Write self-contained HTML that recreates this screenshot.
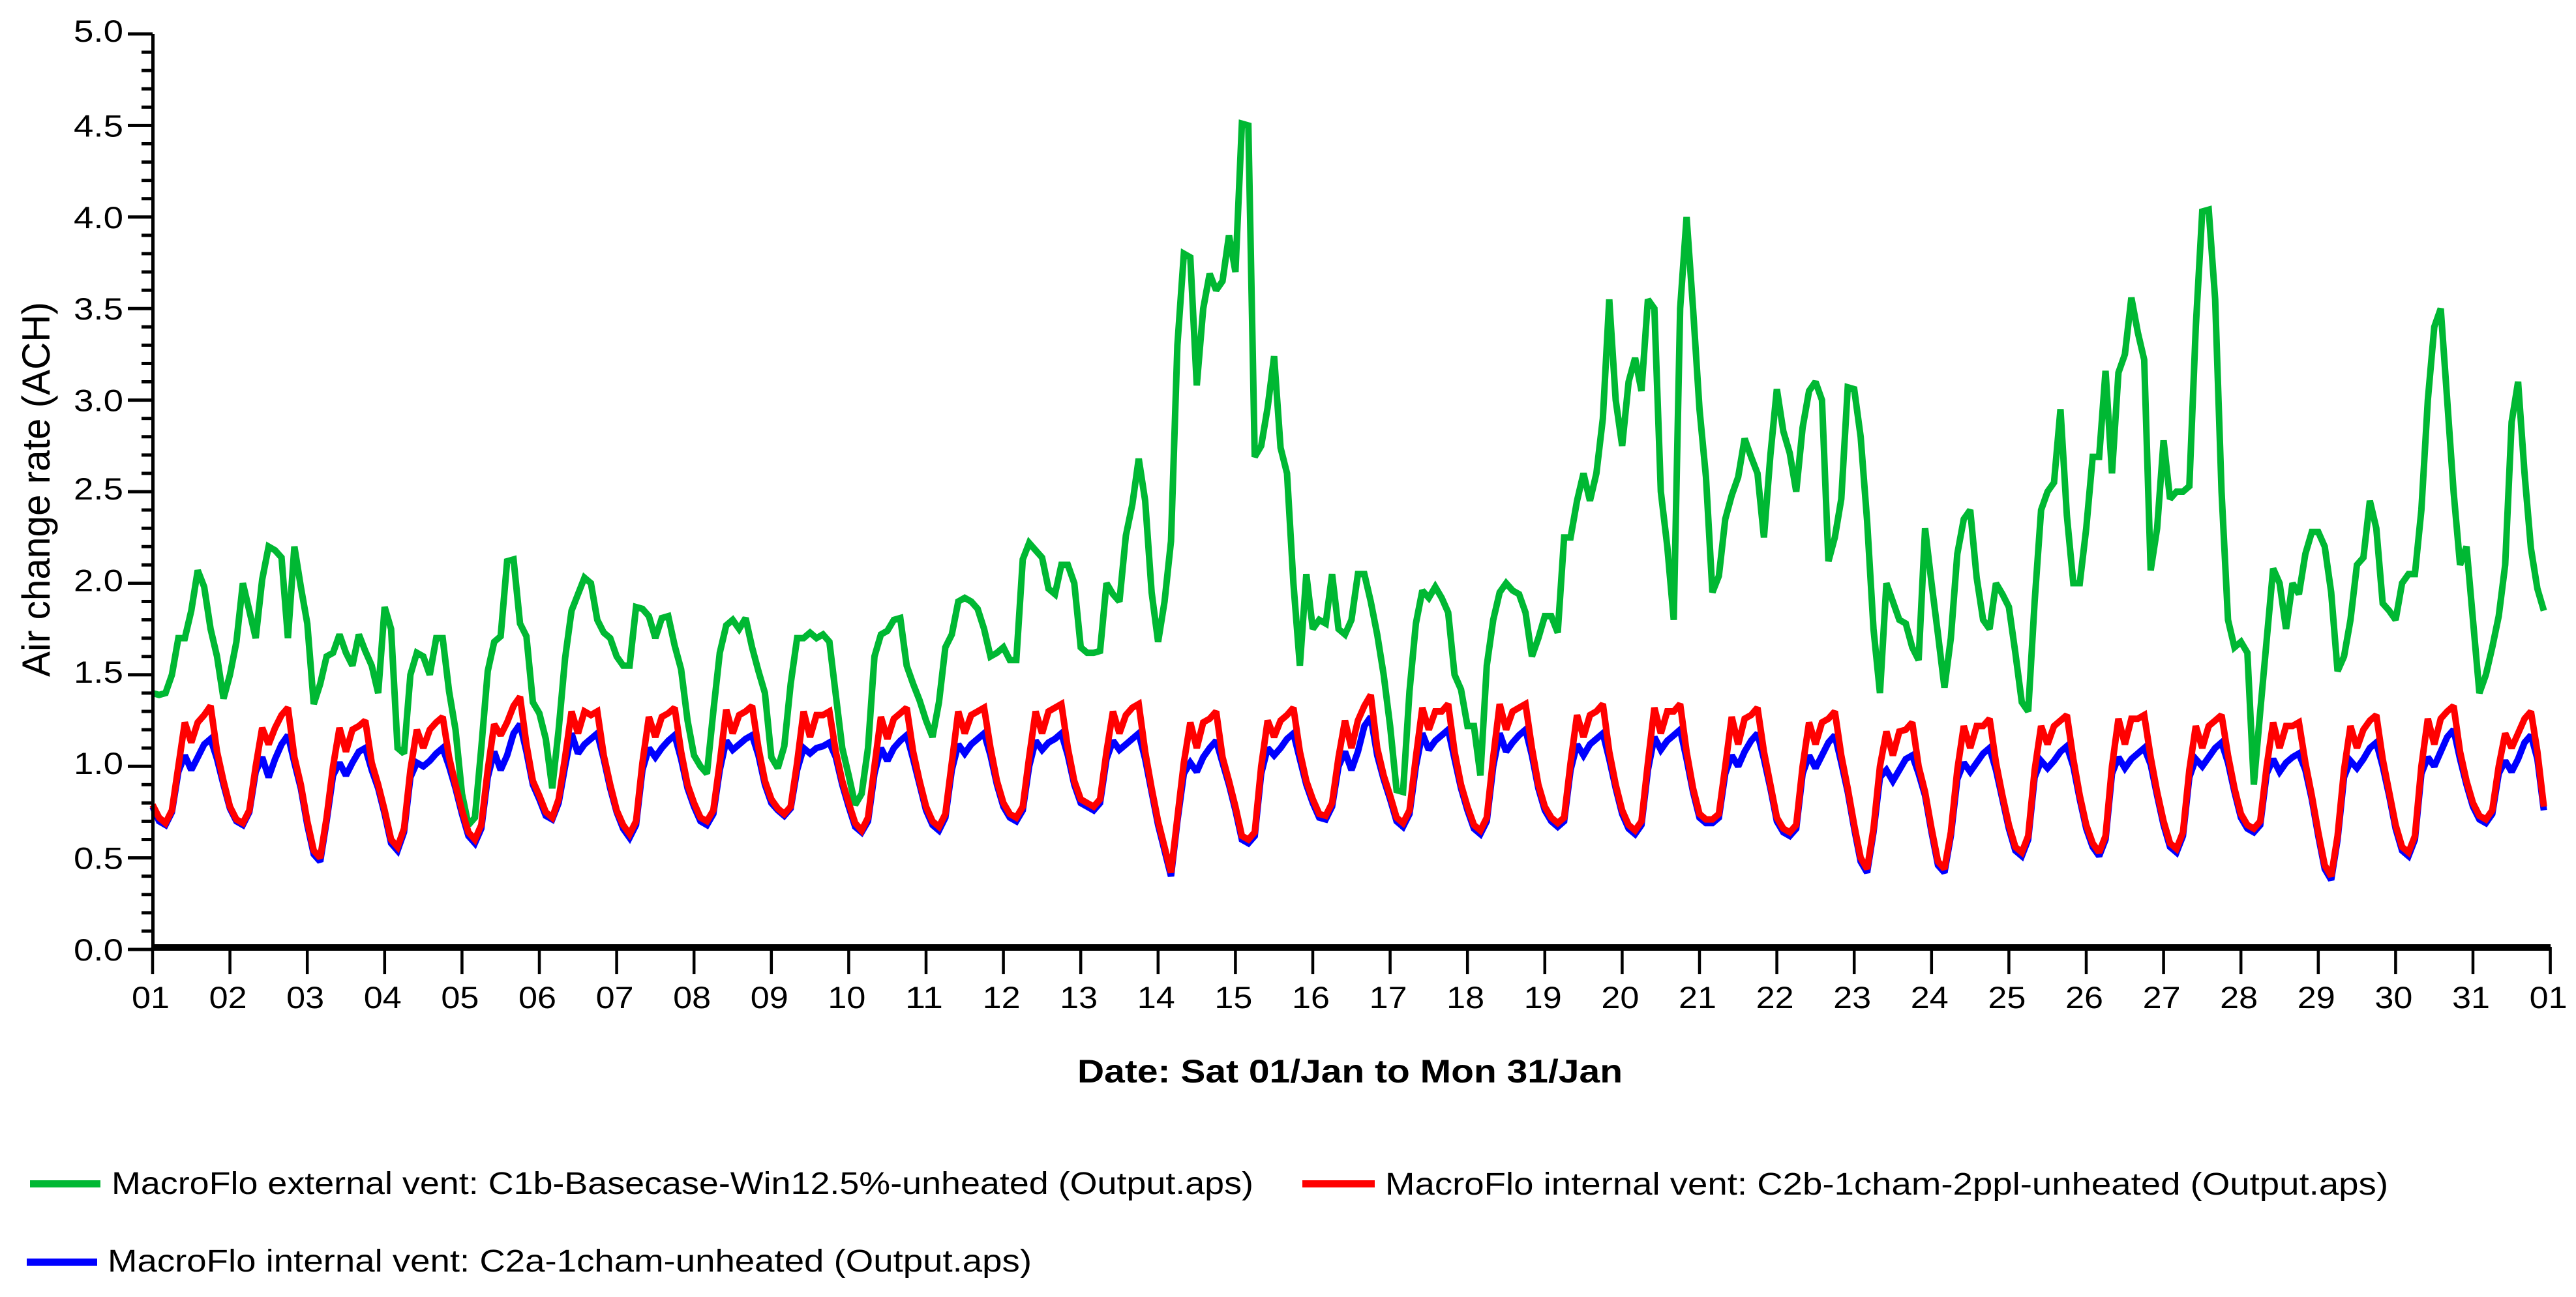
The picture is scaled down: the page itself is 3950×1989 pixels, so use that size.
<!DOCTYPE html>
<html lang="en">
<head>
<meta charset="utf-8">
<title>Air change rate chart</title>
<style>
html,body{margin:0;padding:0;background:#fff;}
svg{display:block;}
text{font-family:"Liberation Sans",Arial,sans-serif;fill:#000;}
</style>
</head>
<body>
<svg id="chart" xmlns="http://www.w3.org/2000/svg" width="3950" height="1989" viewBox="0 0 3950 1989">
<rect width="3950" height="1989" fill="#fff"/>
<g id="series"></g>
<g id="axes"></g>
<text transform="translate(76,1038) rotate(-90)" font-size="60" textLength="575" lengthAdjust="spacingAndGlyphs">Air change rate (ACH)</text>
<text x="1652" y="1660" font-size="50" font-weight="bold" textLength="836" lengthAdjust="spacingAndGlyphs">Date: Sat 01/Jan to Mon 31/Jan</text>
<g>
<rect x="46" y="1810" width="108" height="11" fill="#00b833"/>
<text x="171" y="1831" font-size="48" textLength="1751" lengthAdjust="spacingAndGlyphs">MacroFlo external vent: C1b-Basecase-Win12.5%-unheated (Output.aps)</text>
<rect x="1997" y="1810" width="111" height="11" fill="#ff0000"/>
<text x="2124" y="1832" font-size="48" textLength="1538" lengthAdjust="spacingAndGlyphs">MacroFlo internal vent: C2b-1cham-2ppl-unheated (Output.aps)</text>
<rect x="41" y="1930" width="108" height="11" fill="#0000ff"/>
<text x="165" y="1950" font-size="48" textLength="1417" lengthAdjust="spacingAndGlyphs">MacroFlo internal vent: C2a-1cham-unheated (Output.aps)</text>
</g>
</svg>
<script>
// Two-hourly samples, 12 per day, 1 to 31 January.
const externalC1b = [
1.4,1.39,1.4,1.5,1.7,1.7,1.85,2.07,1.98,1.75,1.6,1.37,
1.5,1.68,2.0,1.85,1.7,2.02,2.2,2.18,2.14,1.7,2.2,1.98,
1.78,1.34,1.45,1.6,1.62,1.72,1.62,1.55,1.72,1.63,1.55,1.4,
1.87,1.75,1.1,1.07,1.5,1.62,1.6,1.5,1.7,1.7,1.41,1.2,
.85,.68,.72,1.1,1.52,1.68,1.71,2.12,2.13,1.78,1.71,1.35,
1.29,1.15,.88,1.2,1.59,1.85,1.94,2.03,2.0,1.8,1.73,1.7,
1.6,1.55,1.55,1.87,1.86,1.82,1.7,1.81,1.82,1.66,1.53,1.25,
1.06,1.0,.96,1.3,1.62,1.77,1.8,1.75,1.81,1.65,1.52,1.4,
1.05,.99,1.11,1.45,1.7,1.7,1.73,1.7,1.72,1.68,1.39,1.1,
.95,.79,.85,1.1,1.6,1.72,1.74,1.8,1.81,1.55,1.45,1.36,
1.25,1.16,1.35,1.65,1.72,1.9,1.92,1.9,1.86,1.75,1.6,1.62,
1.65,1.58,1.58,2.13,2.22,2.18,2.14,1.97,1.94,2.1,2.1,2.0,
1.65,1.62,1.62,1.63,2.0,1.94,1.9,2.26,2.43,2.68,2.45,1.95,
1.68,1.9,2.23,3.3,3.8,3.78,3.08,3.5,3.69,3.6,3.65,3.9,
3.7,4.51,4.5,2.69,2.75,2.96,3.24,2.74,2.6,2.0,1.55,2.05,
1.75,1.8,1.78,2.05,1.75,1.72,1.8,2.05,2.05,1.9,1.72,1.5,
1.22,.87,.86,1.41,1.78,1.96,1.92,1.98,1.92,1.84,1.5,1.42,
1.22,1.22,.95,1.55,1.8,1.95,2.0,1.96,1.94,1.84,1.6,1.7,
1.82,1.82,1.73,2.25,2.25,2.45,2.6,2.45,2.6,2.9,3.55,3.0,
2.75,3.1,3.23,3.05,3.55,3.5,2.5,2.2,1.8,3.5,4.0,3.5,
2.95,2.58,1.95,2.04,2.35,2.48,2.58,2.79,2.69,2.6,2.25,2.7,
3.06,2.83,2.71,2.5,2.85,3.05,3.1,3.0,2.12,2.25,2.46,3.07,
3.06,2.8,2.34,1.75,1.4,2.0,1.9,1.8,1.78,1.65,1.58,2.3,
2.0,1.72,1.43,1.7,2.16,2.35,2.4,2.03,1.8,1.75,2.0,1.94,
1.87,1.62,1.35,1.3,1.9,2.4,2.5,2.55,2.95,2.37,2.0,2.0,
2.3,2.69,2.69,3.16,2.6,3.15,3.25,3.56,3.37,3.22,2.07,2.3,
2.78,2.46,2.5,2.5,2.53,3.4,4.03,4.04,3.55,2.5,1.8,1.65,
1.68,1.62,.9,1.3,1.69,2.08,2.0,1.75,2.0,1.94,2.16,2.28,
2.28,2.2,1.95,1.52,1.6,1.8,2.1,2.14,2.45,2.3,1.89,1.85,
1.8,2.0,2.05,2.05,2.4,3.0,3.4,3.5,3.0,2.5,2.1,2.2,
1.8,1.4,1.5,1.65,1.82,2.1,2.88,3.1,2.6,2.19,1.97,1.85
];
const internalC2b = [
.79,.72,.69,.76,1.00,1.24,1.13,1.24,1.28,1.33,1.08,.92,
.78,.71,.69,.76,1.00,1.21,1.12,1.21,1.28,1.32,1.05,.90,
.70,.54,.50,.72,1.00,1.21,1.08,1.20,1.22,1.25,1.02,.90,
.76,.60,.56,.66,.98,1.20,1.10,1.20,1.24,1.27,1.05,.90,
.76,.64,.60,.68,.98,1.23,1.17,1.24,1.33,1.38,1.12,.92,
.84,.75,.72,.82,1.05,1.30,1.18,1.30,1.28,1.30,1.06,.90,
.76,.68,.63,.70,1.02,1.27,1.16,1.27,1.29,1.32,1.08,.90,
.80,.72,.70,.76,1.02,1.31,1.18,1.28,1.30,1.33,1.10,.92,
.82,.77,.74,.78,1.02,1.30,1.16,1.28,1.28,1.30,1.08,.92,
.80,.69,.65,.72,1.00,1.27,1.15,1.26,1.29,1.32,1.08,.92,
.78,.70,.67,.74,1.02,1.30,1.18,1.28,1.30,1.32,1.10,.92,
.80,.74,.72,.78,1.05,1.30,1.18,1.30,1.32,1.34,1.10,.92,
.82,.80,.78,.82,1.08,1.30,1.18,1.28,1.32,1.34,1.08,.88,
.70,.56,.42,.72,1.02,1.24,1.10,1.24,1.26,1.30,1.05,.92,
.78,.62,.60,.64,1.00,1.25,1.16,1.25,1.28,1.32,1.08,.92,
.82,.74,.73,.80,1.05,1.25,1.10,1.25,1.33,1.39,1.10,.95,
.84,.72,.69,.76,1.05,1.32,1.20,1.30,1.30,1.34,1.08,.90,
.78,.68,.65,.72,1.05,1.34,1.20,1.30,1.32,1.34,1.10,.90,
.78,.72,.69,.72,1.02,1.28,1.16,1.28,1.30,1.34,1.08,.90,
.76,.68,.65,.70,1.02,1.32,1.18,1.30,1.30,1.34,1.08,.88,
.74,.71,.71,.74,1.00,1.27,1.12,1.26,1.28,1.32,1.08,.90,
.72,.66,.64,.68,1.00,1.24,1.12,1.24,1.26,1.30,1.06,.88,
.68,.50,.44,.66,1.00,1.19,1.06,1.19,1.20,1.24,1.00,.86,
.66,.48,.44,.64,.98,1.22,1.10,1.22,1.22,1.26,1.02,.84,
.68,.56,.53,.62,.98,1.22,1.12,1.22,1.25,1.28,1.04,.84,
.68,.58,.53,.62,1.00,1.26,1.12,1.26,1.26,1.28,1.05,.86,
.70,.58,.55,.64,.98,1.22,1.10,1.22,1.25,1.28,1.06,.88,
.74,.68,.66,.70,1.00,1.24,1.10,1.22,1.22,1.24,1.02,.84,
.64,.46,.40,.62,.98,1.22,1.10,1.20,1.25,1.28,1.04,.86,
.68,.56,.53,.62,1.00,1.26,1.12,1.26,1.30,1.33,1.08,.92,
.80,.73,.71,.76,1.00,1.18,1.10,1.18,1.26,1.30,1.08,.78
];
const internalC2a = [
.78,.70,.68,.75,.97,1.06,.98,1.05,1.12,1.15,1.04,.90,
.77,.70,.68,.75,.97,1.05,.94,1.04,1.12,1.17,1.02,.88,
.68,.52,.48,.70,.95,1.02,.95,1.02,1.08,1.10,.98,.88,
.74,.58,.54,.64,.94,1.02,1.00,1.03,1.07,1.10,1.00,.88,
.74,.62,.58,.66,.94,1.08,.98,1.06,1.18,1.23,1.08,.90,
.82,.73,.71,.80,1.00,1.18,1.07,1.12,1.15,1.18,1.04,.88,
.75,.66,.61,.68,.98,1.10,1.05,1.10,1.14,1.17,1.04,.88,
.78,.70,.68,.74,.98,1.14,1.09,1.12,1.15,1.17,1.06,.90,
.80,.76,.73,.77,.98,1.10,1.07,1.10,1.11,1.13,1.05,.90,
.78,.67,.64,.70,.96,1.10,1.03,1.10,1.14,1.17,1.04,.90,
.76,.68,.65,.72,.98,1.12,1.07,1.12,1.15,1.18,1.06,.90,
.78,.72,.70,.76,1.00,1.14,1.09,1.13,1.15,1.18,1.06,.90,
.80,.78,.76,.80,1.04,1.14,1.09,1.12,1.15,1.18,1.04,.86,
.68,.54,.40,.70,.96,1.02,.97,1.05,1.10,1.14,1.02,.90,
.76,.60,.58,.62,.96,1.10,1.06,1.10,1.15,1.18,1.04,.90,
.80,.72,.71,.78,1.00,1.08,.98,1.08,1.22,1.27,1.06,.93,
.82,.70,.67,.74,1.00,1.18,1.09,1.14,1.17,1.20,1.04,.88,
.76,.66,.63,.70,1.00,1.18,1.08,1.13,1.17,1.20,1.06,.88,
.76,.70,.67,.70,.98,1.12,1.06,1.12,1.15,1.18,1.04,.88,
.74,.66,.63,.68,.98,1.16,1.09,1.14,1.17,1.20,1.04,.86,
.72,.69,.69,.72,.96,1.06,1.00,1.08,1.14,1.18,1.04,.88,
.70,.64,.62,.66,.96,1.06,.99,1.06,1.13,1.17,1.02,.86,
.66,.48,.42,.64,.94,.98,.92,.98,1.04,1.06,.96,.84,
.64,.46,.42,.62,.93,1.02,.97,1.02,1.07,1.10,.98,.82,
.66,.54,.51,.60,.94,1.03,.99,1.03,1.08,1.11,1.00,.82,
.66,.56,.51,.60,.96,1.05,.99,1.04,1.07,1.10,1.01,.84,
.68,.56,.53,.62,.94,1.04,1.00,1.05,1.10,1.13,1.02,.86,
.72,.66,.64,.68,.96,1.04,.97,1.02,1.05,1.07,.98,.82,
.62,.44,.38,.60,.94,1.03,.99,1.04,1.10,1.13,1.00,.84,
.66,.54,.51,.60,.96,1.05,1.00,1.08,1.16,1.20,1.04,.90,
.78,.71,.69,.74,.96,1.03,.97,1.04,1.13,1.17,1.04,.76
];
const yTickLabels = ["0.0","0.5","1.0","1.5","2.0","2.5","3.0","3.5","4.0","4.5","5.0"];
const xTickLabels = ["01","02","03","04","05","06","07","08","09","10","11","12","13","14","15","16","17","18","19","20","21","22","23","24","25","26","27","28","29","30","31","01"];

const SVGNS = "http://www.w3.org/2000/svg";
const seriesGroup = document.getElementById("series");
const axesGroup = document.getElementById("axes");

function xScale(day) { return 234 + day * 118.6; }
function yScale(v) { return 1456 - v * 280.8; }

function drawSeries(values, colour, name) {
  let pts = "";
  for (let i = 0; i < values.length; i++) {
    const px = xScale(i / 12);
    pts += px.toFixed(1) + "," + yScale(values[i]).toFixed(1) + " ";
  }
  const line = document.createElementNS(SVGNS, "polyline");
  line.setAttribute("points", pts.trim());
  line.setAttribute("fill", "none");
  line.setAttribute("stroke", colour);
  line.setAttribute("stroke-width", "10");
  line.setAttribute("stroke-linejoin", "miter");
  line.setAttribute("stroke-miterlimit", "2");
  
  
  seriesGroup.appendChild(line);
}
drawSeries(externalC1b, "#00b833", "series-external-c1b");
drawSeries(internalC2a, "#0000ff", "series-internal-c2a");
drawSeries(internalC2b, "#ff0000", "series-internal-c2b");

function addRect(x, y, w, h, name) {
  const r = document.createElementNS(SVGNS, "rect");
  r.setAttribute("x", x);
  r.setAttribute("y", y);
  r.setAttribute("width", w);
  r.setAttribute("height", h);
  r.setAttribute("fill", "#000");
  
  
  axesGroup.appendChild(r);
}
addRect(232, 52, 5, 1406, "y-axis-line");
addRect(232, 1448, 3679, 10, "x-axis-line");

const upperBaseline = new Set(["5.0", "2.5", "2.0", "1.5", "1.0"]);
yTickLabels.forEach(function (label) {
  const v = parseFloat(label);
  const y = yScale(v);
  addRect(196, y - 2.5, 38, 5, "y-major-tick");
  const t = document.createElementNS(SVGNS, "text");
  t.setAttribute("x", 113);
  t.setAttribute("y", y + (upperBaseline.has(label) ? 12 : 17));
  t.setAttribute("font-size", "47");
  t.setAttribute("textLength", "76");
  t.setAttribute("lengthAdjust", "spacingAndGlyphs");
  
  
  t.textContent = label;
  axesGroup.appendChild(t);
});
for (let k = 1; k < 50; k++) {
  if (k % 5 === 0) continue;
  addRect(217, yScale(k / 10) - 2.5, 17, 5, "y-minor-tick");
}
xTickLabels.forEach(function (label, i) {
  const x = xScale(i);
  addRect(x - 2.25, 1452, 4.5, 42, "x-tick");
  const t = document.createElementNS(SVGNS, "text");
  t.setAttribute("x", x - 32);
  t.setAttribute("y", 1546);
  t.setAttribute("font-size", "47");
  t.setAttribute("textLength", "58");
  t.setAttribute("lengthAdjust", "spacingAndGlyphs");
  
  
  t.textContent = label;
  axesGroup.appendChild(t);
});
</script>
</body>
</html>
